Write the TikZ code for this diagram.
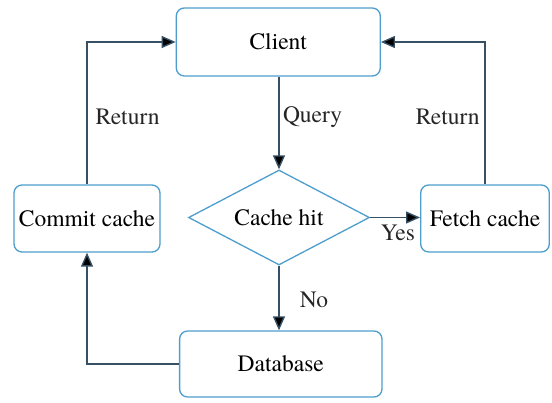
\documentclass[tikz,border=0pt]{standalone}
\usepackage{fontspec}
\setmainfont{texgyretermes-regular.otf}
\usetikzlibrary{shapes.geometric,arrows.meta}
\definecolor{boxblue}{RGB}{78,158,205}
\definecolor{linec}{RGB}{55,80,100}
\tikzset{
  txt/.style={font=\fontsize{23.5}{27}\selectfont},
  procbox/.style={txt, draw=boxblue, line width=1.3pt, rounded corners=8pt, fill=white, inner sep=0pt},
  decbox/.style={txt, draw=boxblue, line width=1.3pt, diamond, aspect=1.9, fill=white,
    inner sep=0pt, minimum width=181pt, minimum height=95pt},
  conn/.style={draw=linec, line width=1.4pt, -{Triangle[length=14pt,width=12pt,fill=black]}},
  lbl/.style={txt, inner sep=0pt, text=black!85}
}
\begin{document}
\begin{tikzpicture}[x=1pt,y=-1pt]
\useasboundingbox (0,0) rectangle (552,403);
\node[procbox, minimum width=204pt, minimum height=68pt] (client) at (278.3,42) {Client};
\node[decbox] (dia) at (279,217.5) {Cache hit};
\node[procbox, minimum width=146pt, minimum height=67pt] (commit) at (87,218.5) {Commit cache};
\node[procbox, minimum width=128.6pt, minimum height=67pt] (fetch) at (485,218.5) {Fetch cache};
\node[procbox, minimum width=202.4pt, minimum height=66pt] (db) at (280.8,364) {Database};
\draw[conn] (client.south -| dia.north) -- (dia.north);
\draw[conn] (dia.east) -- (dia.east -| fetch.west);
\draw[conn] (dia.south) -- (dia.south |- db.north);
\draw[conn] (db.west) -| (commit.south);
\draw[conn] (commit.north) |- (client.west);
\draw[conn] (fetch.north) |- (client.east);
\node[lbl] (lret) at (127.6,117) {Return};
\node[lbl] (rret) at (447.7,117) {Return};
\node[lbl] (query) at (312.6,117) {Query};
\node[lbl] (yes) at (398,233) {Yes};
\node[lbl] (no) at (314,300) {No};
\end{tikzpicture}
\end{document}
